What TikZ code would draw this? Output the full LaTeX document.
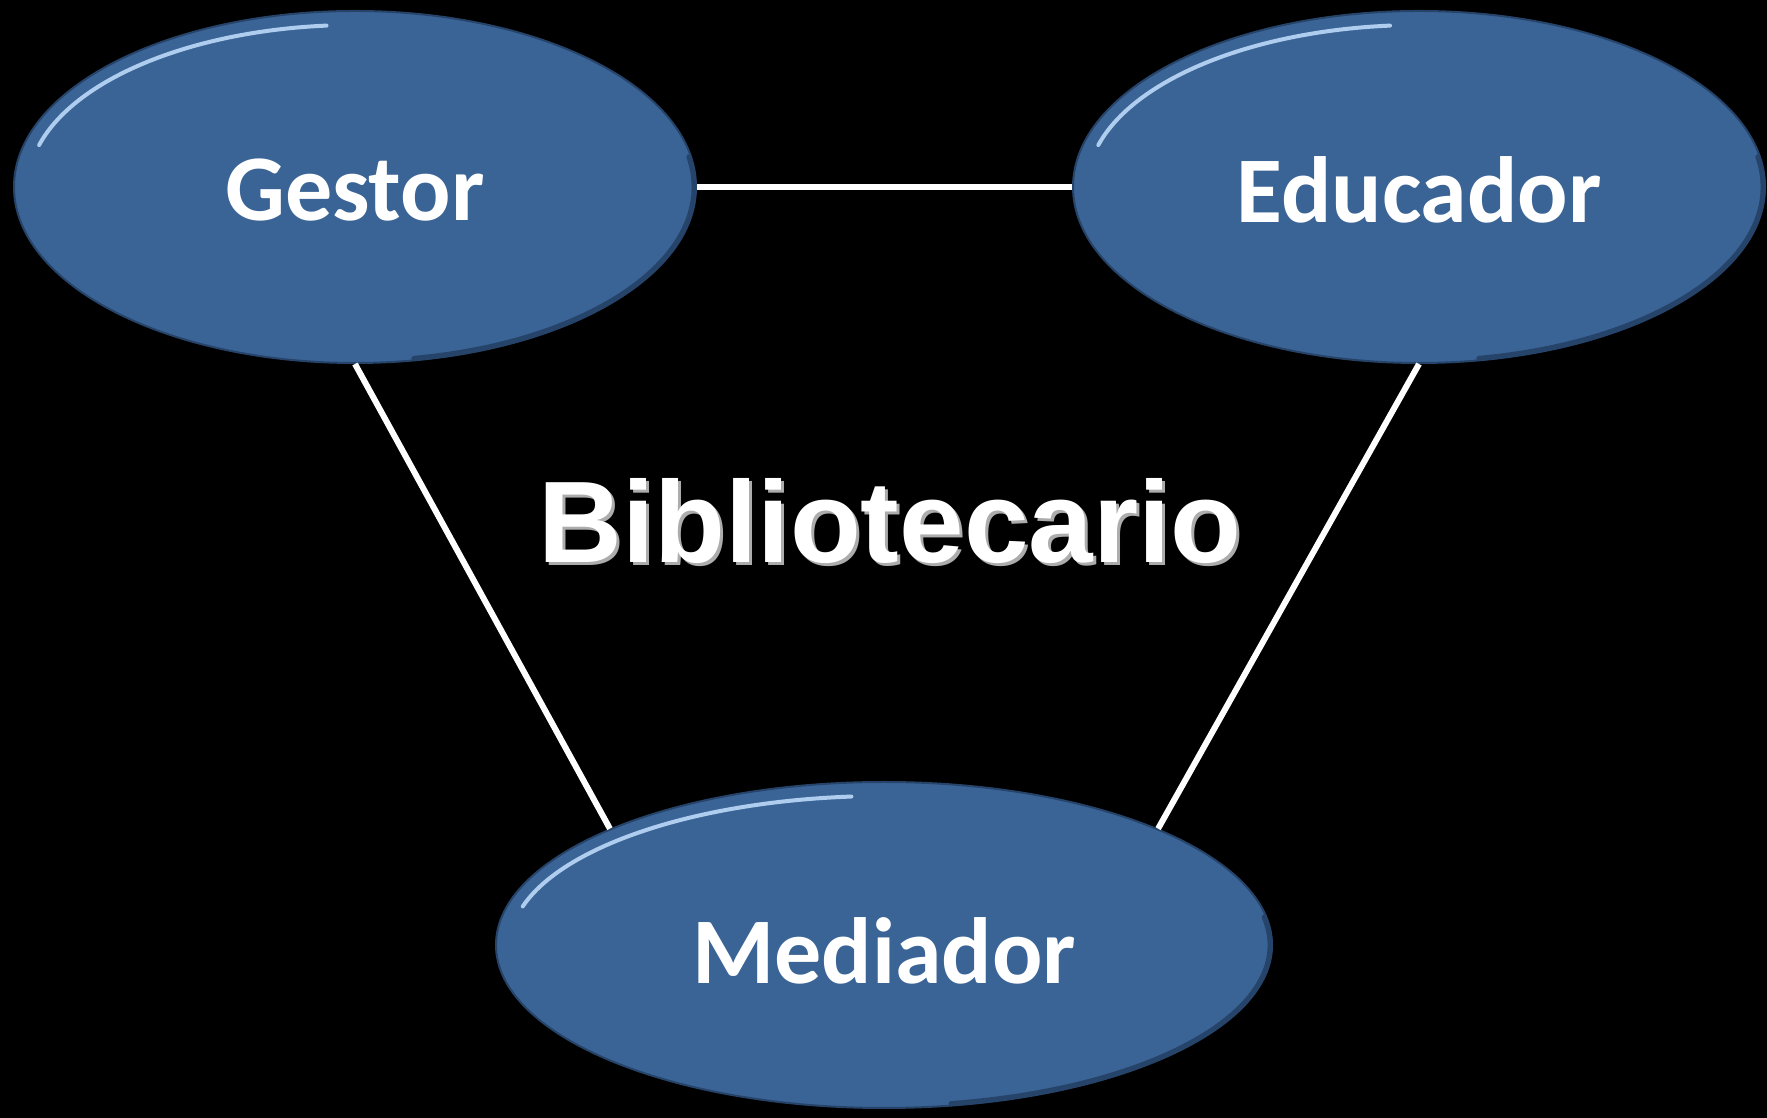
\documentclass[tikz,border=0pt]{standalone}
\usepackage{fontspec}
\setmainfont{Carlito}
\newfontfamily\titlefont{Liberation Sans}
\usepackage{tikz}
\usetikzlibrary{shapes.geometric,calc}

\definecolor{roleblue}{RGB}{59,100,150}
\definecolor{roleedge}{RGB}{38,68,106}
\definecolor{rolehi}{RGB}{175,205,238}

\newcommand{\lowered}[2]{\raisebox{-#1}[\height][\depth]{#2}}

\begin{document}
\begin{tikzpicture}[x=0.5pt, y=0.5pt,
	role/.style={ellipse, fill=roleblue, draw=roleedge, line width=1pt, inner sep=0pt,
		text=white, font=\fontsize{47}{56}\selectfont\bfseries},
	link/.style={draw=white, line width=3pt},
	hilite/.style={rolehi, line width=2pt, line cap=round},
	shade/.style={roleedge, line width=2.5pt, line cap=round}]
	% Background
	\useasboundingbox (0,0) rectangle (1767,1118);
	\fill[black] (0,0) rectangle (1767,1118);

	% Roles
	\node[role, minimum width=341pt, minimum height=176pt] (gestor) at (355, 931) {\lowered{1.5pt}{Gestor}};
	\node[role, minimum width=346pt, minimum height=176pt] (educador) at (1419, 931) {\lowered{1.5pt}{Educador}};
	\node[role, minimum width=388pt, minimum height=163pt] (mediador) at (884, 173) {\lowered{3pt}{Mediador}};

	% Bevel
	\foreach \n/\rx/\ry in {gestor/341/176, educador/346/176, mediador/388/163} {
		\draw[hilite] ($(\n.center)+(95:{\rx-14} and {\ry-14})$)
			arc[start angle=95, end angle=165, x radius=\rx-14, y radius=\ry-14];
		\draw[shade] ($(\n.center)+(-80:{\rx-2} and {\ry-2})$)
			arc[start angle=-80, end angle=10, x radius=\rx-2, y radius=\ry-2];
	}

	% Links
	\draw[link] (gestor) -- (educador);
	\draw[link] (gestor.south) -- (mediador.157);
	\draw[link] (educador.south) -- (mediador.23);

	% Title
	\node[anchor=base, text=gray!65, font=\titlefont\fontsize{58}{66}\selectfont\bfseries] (shadow) at (893, 552) {Bibliotecario};
	\node[anchor=base, text=white, font=\titlefont\fontsize{58}{66}\selectfont\bfseries] (title) at (890, 555) {Bibliotecario};
\end{tikzpicture}
\end{document}
